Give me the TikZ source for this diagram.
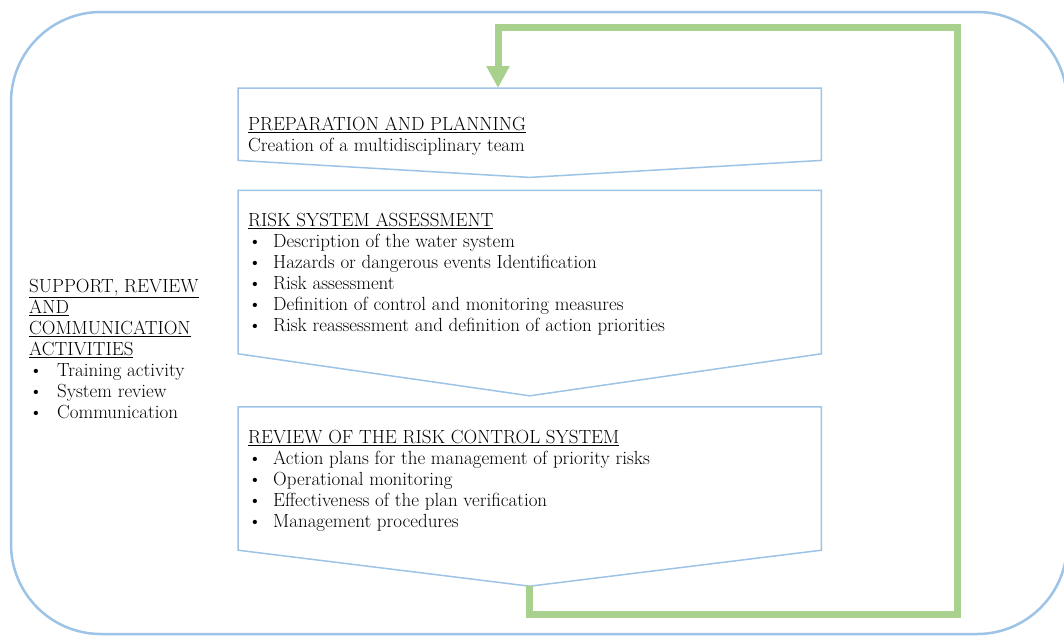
\documentclass[tikz,border=0pt]{standalone}
\usetikzlibrary{positioning,calc,arrows.meta}
\definecolor{frameblue}{RGB}{157,195,230}
\definecolor{loopgreen}{RGB}{169,209,142}
\newcommand{\itm}{\makebox[25pt][l]{\textbullet}}

\begin{document}
\begin{tikzpicture}[x=1pt,y=-1pt,
  stage/.style={minimum width=583pt,inner sep=0pt,anchor=north west},
  chev/.style={draw=frameblue,line width=1.5pt},
  txt/.style={anchor=north west,align=left,inner sep=0pt,font=\fontsize{19}{21}\selectfont},
  feedback/.style={draw=loopgreen,line width=7pt,-{Triangle[width=22pt,length=22pt]}}]

\useasboundingbox (0,0) rectangle (1064,635);
\draw[frameblue,line width=2.5pt,rounded corners=90pt] (11,12) rectangle (1067,634);

% the three stages
\node[stage,minimum height=72pt](prep) at (238,88){};
\node[stage,minimum height=163pt](risk)[below=30pt of prep]{};
\node[stage,minimum height=143pt](review)[below=53pt of risk]{};
\coordinate (prep tip) at ($(prep.south)+(0,17)$);
\coordinate (risk tip) at ($(risk.south)+(0,42)$);
\coordinate (review tip) at ($(review.south)+(0,36)$);

\draw[chev] (prep.north west) -- (prep.north east) -- (prep.south east) -- (prep tip) -- (prep.south west) -- cycle;
\draw[chev] (risk.north west) -- (risk.north east) -- (risk.south east) -- (risk tip) -- (risk.south west) -- cycle;
\draw[chev] (review.north west) -- (review.north east) -- (review.south east) -- (review tip) -- (review.south west) -- cycle;

\node[txt](prep text)[below right=29pt and 10pt of prep.north west]{\underline{PREPARATION AND PLANNING}\\Creation of a multidisciplinary team};
\node[txt](risk text)[below right=22pt and 10pt of risk.north west]{\underline{RISK SYSTEM ASSESSMENT}\\
  \itm Description of the water system\\
  \itm Hazards or dangerous events Identification\\
  \itm Risk assessment\\
  \itm Definition of control and monitoring measures\\
  \itm Risk reassessment and definition of action priorities};
\node[txt](review text)[below right=23pt and 10pt of review.north west]{\underline{REVIEW OF THE RISK CONTROL SYSTEM}\\
  \itm Action plans for the management of priority risks\\
  \itm Operational monitoring\\
  \itm Effectiveness of the plan verification\\
  \itm Management procedures};

% side activities
\node[txt](support) at (29,279){\underline{SUPPORT, REVIEW}\\\underline{AND}\\\underline{COMMUNICATION}\\\underline{ACTIVITIES}\\
  \makebox[28pt][l]{\textbullet}Training activity\\
  \makebox[28pt][l]{\textbullet}System review\\
  \makebox[28pt][l]{\textbullet}Communication};

% feedback loop
\coordinate (entry) at ($(prep.north west)+(260,0)$);
\coordinate (return low) at (957,614);
\coordinate (return high) at (957,27);
\draw[feedback] (review tip) |- (return low) -- (return high) -| (entry);

\end{tikzpicture}
\end{document}
